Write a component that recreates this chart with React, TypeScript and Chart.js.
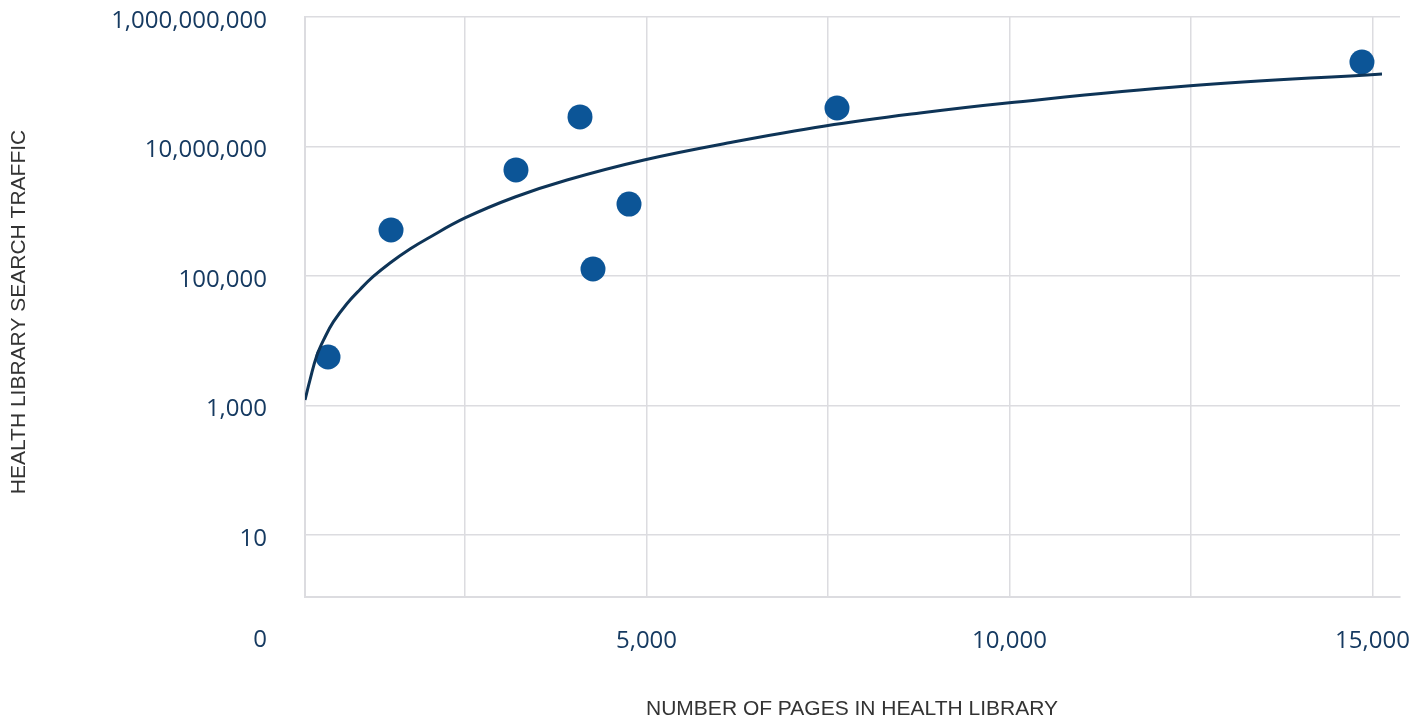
import React, { useEffect, useRef } from "react";
import { Chart, registerables } from "chart.js";

Chart.register(...registerables);

const pagesX = [613, 1481, 3202, 4084, 4263, 4759, 7624, 14855];
const trafficY = [5600, 513000, 4340000, 28600000, 128000, 1290000, 39300000, 202000000];

const trendX = [296, 365, 457, 572, 686, 870, 1054, 1237, 1467, 1742, 1972, 2500, 3189, 3905, 4966, 6192, 7459, 8767, 9965, 12445, 15131];
const trendY = [1216, 2480, 5810, 11400, 19500, 37000, 61900, 98200, 159000, 261000, 373000, 787000, 1660000, 3040000, 6190000, 11700000, 20700000, 32900000, 47000000, 85900000, 132000000];

const yTicks = [10, 1000, 100000, 10000000, 1000000000];
const xTicks = [2500, 5000, 7500, 10000, 12500, 15000];
const xLabelTicks = [5000, 10000, 15000];

const xTitle = "NUMBER OF PAGES IN HEALTH LIBRARY";
const yTitle = "HEALTH LIBRARY SEARCH TRAFFIC";
const yZeroLabel = "0";

const TICK_COLOR = "#163a61";
const GRID_COLOR = "#dcdce0";
const FONT = "'Open Sans', sans-serif";

export default function App() {
  const ref = useRef<HTMLCanvasElement | null>(null);

  useEffect(() => {
    if (!ref.current) return;
    const titlesPlugin = {
      id: "titles",
      afterDraw(chart: any) {
        const ctx = chart.ctx;
        ctx.save();
        ctx.fillStyle = "#333333";
        ctx.font = "21px 'Liberation Sans', Arial, sans-serif";
        ctx.textAlign = "center";
        ctx.textBaseline = "middle";
        ctx.fillText(xTitle, 852, 709);
        ctx.translate(19, 312);
        ctx.rotate(-Math.PI / 2);
        ctx.fillText(yTitle, 0, 0);
        ctx.restore();

        ctx.save();
        ctx.fillStyle = TICK_COLOR;
        ctx.font = `500 24px ${FONT}`;
        ctx.textAlign = "right";
        ctx.textBaseline = "middle";
        ctx.fillText(yZeroLabel, 267, 640);
        ctx.restore();
      },
    };

    const chart = new Chart(ref.current, {
      type: "scatter",
      data: {
        datasets: [
          {
            type: "line",
            data: trendX.map((x, i) => ({ x, y: trendY[i] })),
            borderColor: "#0e3457",
            borderWidth: 3,
            pointRadius: 0,
            fill: false,
            tension: 0.4,
          } as any,
          {
            type: "scatter",
            data: pagesX.map((x, i) => ({ x, y: trafficY[i] })),
            backgroundColor: "#0c5597",
            borderWidth: 0,
            pointRadius: 12.5,
            pointHoverRadius: 12.5,
          } as any,
        ],
      },
      options: {
        animation: false,
        responsive: true,
        maintainAspectRatio: false,
        layout: { padding: { top: 17, right: 13, left: 0, bottom: 0 } },
        plugins: { legend: { display: false }, tooltip: { enabled: false } },
        scales: {
          x: {
            type: "linear",
            min: 296,
            max: 15379,
            afterBuildTicks: (scale: any) => {
              scale.ticks = xTicks.map((v) => ({ value: v }));
            },
            afterFit: (scale: any) => {
              scale.height = 122;
              scale.paddingLeft = 0;
              scale.paddingRight = 0;
            },
            ticks: {
              color: TICK_COLOR,
              font: { family: FONT, size: 24, weight: "500" },
              padding: 30,
              maxRotation: 0,
              autoSkip: false,
              callback: (v: any) =>
                xLabelTicks.includes(Number(v)) ? Number(v).toLocaleString("en-US") : "",
            },
            grid: { color: GRID_COLOR, lineWidth: 1.5, drawTicks: false },
            border: { color: GRID_COLOR, width: 2 },
          },
          y: {
            type: "logarithmic",
            min: 1.1,
            max: 1000000000,
            afterBuildTicks: (scale: any) => {
              scale.ticks = yTicks.map((v) => ({ value: v }));
            },
            afterFit: (scale: any) => {
              scale.width = 305;
              scale.paddingTop = 0;
              scale.paddingBottom = 0;
            },
            ticks: {
              color: TICK_COLOR,
              font: { family: FONT, size: 24, weight: "500" },
              padding: 38,
              labelOffset: 4,
              autoSkip: false,
              callback: (v: any) => Number(v).toLocaleString("en-US"),
            },
            grid: { color: GRID_COLOR, lineWidth: 1.5, drawTicks: false },
            border: { color: GRID_COLOR, width: 2 },
          },
        },
      },
      plugins: [titlesPlugin],
    } as any);

    return () => chart.destroy();
  }, []);

  return (
    <div style={{ position: "fixed", left: 0, top: 0, width: 1413, height: 719 }}>
      <canvas ref={ref} />
    </div>
  );
}
